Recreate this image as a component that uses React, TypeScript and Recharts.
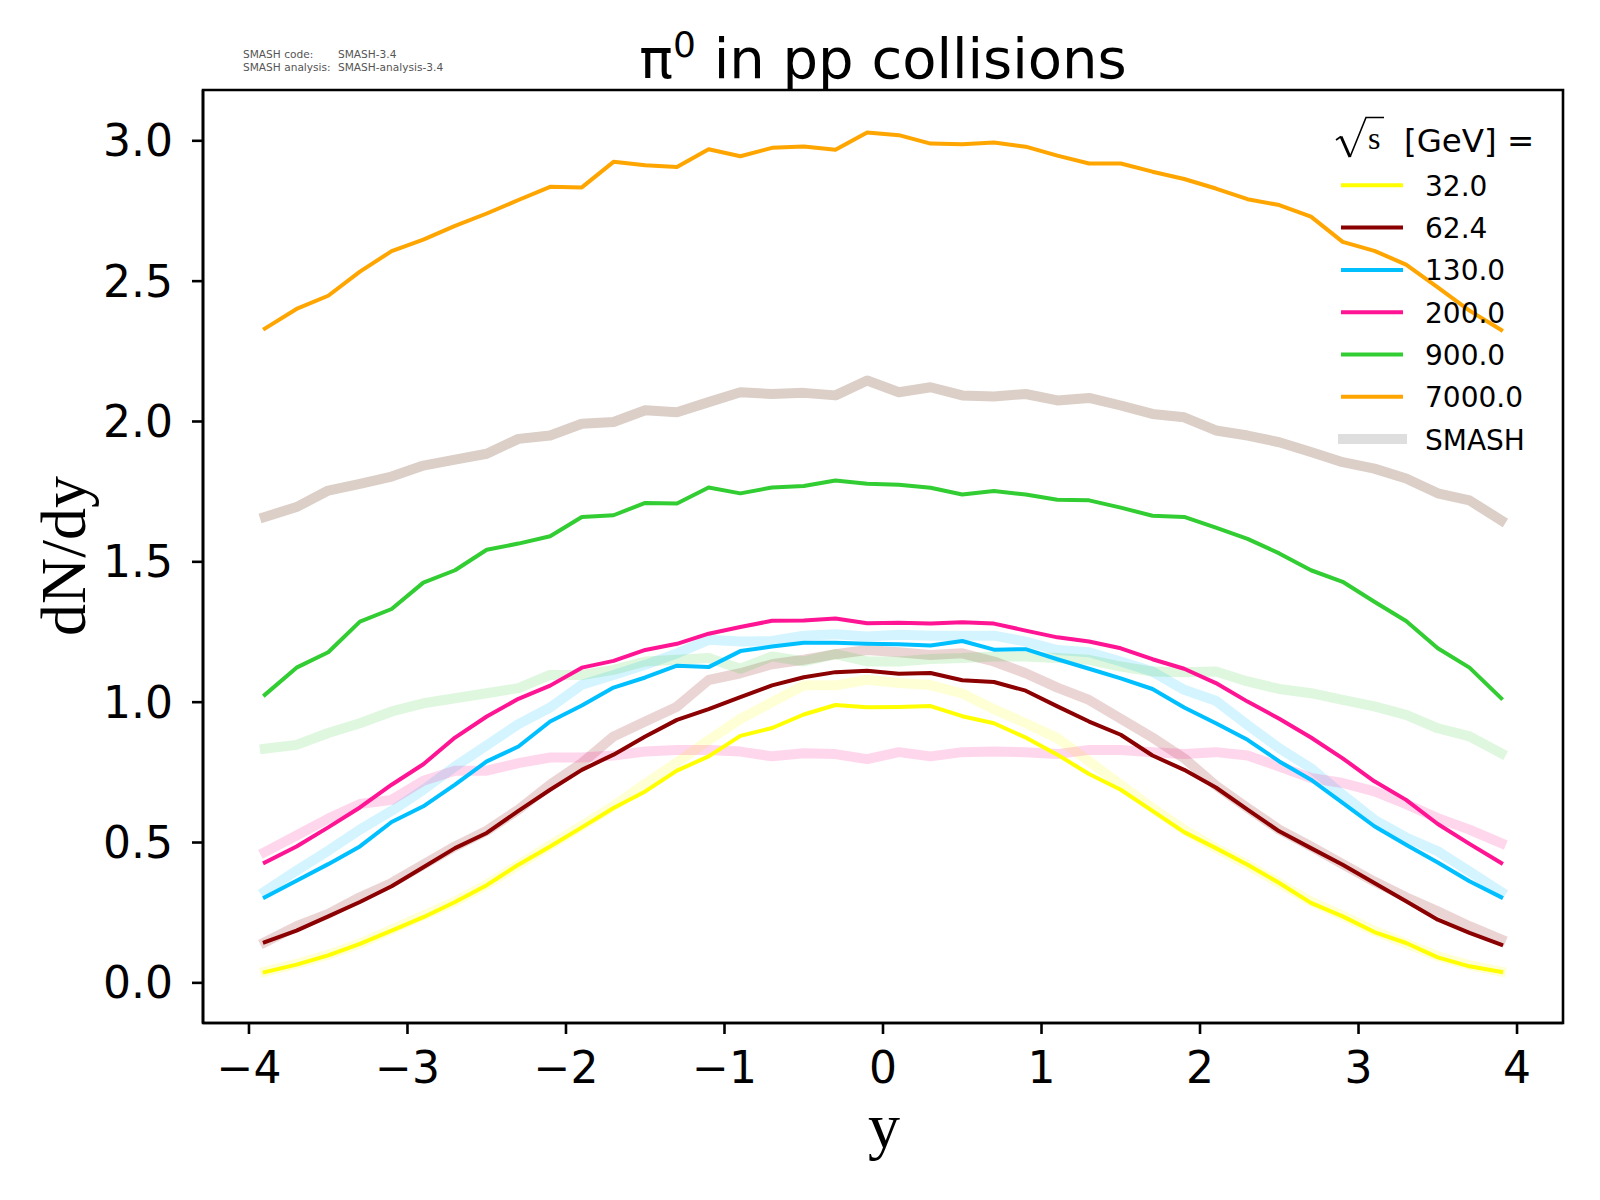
import React from 'react';
import { LineChart, Line, XAxis, YAxis, ReferenceArea } from 'recharts';

// rapidity bins
const rapidity = [
  -3.9, -3.7, -3.5, -3.3, -3.1, -2.9, -2.7, -2.5, -2.3, -2.1,
  -1.9, -1.7, -1.5, -1.3, -1.1, -0.9, -0.7, -0.5, -0.3, -0.1,
  0.1, 0.3, 0.5, 0.7, 0.9, 1.1, 1.3, 1.5, 1.7, 1.9,
  2.1, 2.3, 2.5, 2.7, 2.9, 3.1, 3.3, 3.5, 3.7, 3.9,
];

// reference curves (thin lines)
const ref32 = [
  0.038, 0.065, 0.098, 0.139, 0.186, 0.234, 0.288, 0.348, 0.421, 0.486,
  0.554, 0.623, 0.682, 0.756, 0.807, 0.880, 0.908, 0.956, 0.990, 0.982,
  0.983, 0.986, 0.950, 0.925, 0.874, 0.813, 0.744, 0.688, 0.613, 0.537,
  0.480, 0.421, 0.356, 0.285, 0.237, 0.181, 0.142, 0.091, 0.059, 0.039,
];
const ref62 = [
  0.145, 0.186, 0.237, 0.288, 0.344, 0.412, 0.480, 0.534, 0.613, 0.688,
  0.759, 0.813, 0.878, 0.937, 0.975, 1.018, 1.060, 1.089, 1.107, 1.112,
  1.101, 1.104, 1.078, 1.072, 1.041, 0.985, 0.931, 0.884, 0.810, 0.759,
  0.696, 0.617, 0.540, 0.480, 0.421, 0.356, 0.291, 0.225, 0.178, 0.136,
];
const ref130 = [
  0.305, 0.364, 0.423, 0.486, 0.573, 0.629, 0.706, 0.789, 0.842, 0.931,
  0.988, 1.052, 1.088, 1.130, 1.125, 1.182, 1.198, 1.212, 1.212, 1.208,
  1.206, 1.202, 1.218, 1.187, 1.189, 1.153, 1.119, 1.085, 1.047, 0.981,
  0.925, 0.866, 0.789, 0.724, 0.641, 0.558, 0.492, 0.429, 0.362, 0.305,
];
const ref200 = [
  0.429, 0.486, 0.554, 0.625, 0.706, 0.779, 0.874, 0.949, 1.012, 1.059,
  1.123, 1.147, 1.186, 1.208, 1.244, 1.268, 1.290, 1.291, 1.298, 1.281,
  1.283, 1.280, 1.285, 1.280, 1.255, 1.231, 1.216, 1.192, 1.153, 1.119,
  1.068, 1.002, 0.941, 0.874, 0.800, 0.718, 0.652, 0.566, 0.495, 0.427,
];
const ref900 = [
  1.026, 1.123, 1.178, 1.287, 1.332, 1.426, 1.470, 1.543, 1.565, 1.591,
  1.660, 1.666, 1.710, 1.708, 1.765, 1.744, 1.765, 1.770, 1.790, 1.778,
  1.775, 1.764, 1.740, 1.752, 1.740, 1.721, 1.719, 1.693, 1.664, 1.660,
  1.622, 1.582, 1.530, 1.470, 1.429, 1.358, 1.289, 1.192, 1.123, 1.014,
];
const ref7000 = [
  2.331, 2.401, 2.448, 2.534, 2.607, 2.648, 2.697, 2.741, 2.789, 2.836,
  2.834, 2.925, 2.913, 2.907, 2.970, 2.945, 2.975, 2.980, 2.968, 3.030,
  3.020, 2.990, 2.988, 2.994, 2.979, 2.947, 2.919, 2.919, 2.890, 2.864,
  2.830, 2.792, 2.771, 2.730, 2.640, 2.608, 2.559, 2.478, 2.395, 2.326,
];

// SMASH curves (thick, faded)
const smash32 = [
  0.040, 0.068, 0.100, 0.140, 0.190, 0.240, 0.290, 0.350, 0.420, 0.490,
  0.560, 0.630, 0.710, 0.785, 0.865, 0.940, 1.000, 1.060, 1.060, 1.080,
  1.068, 1.061, 1.031, 0.975, 0.925, 0.872, 0.789, 0.706, 0.623, 0.546,
  0.480, 0.420, 0.355, 0.290, 0.240, 0.185, 0.140, 0.095, 0.063, 0.040,
];
const smash62 = [
  0.145, 0.202, 0.246, 0.305, 0.356, 0.421, 0.486, 0.542, 0.617, 0.706,
  0.783, 0.878, 0.931, 0.984, 1.079, 1.103, 1.135, 1.151, 1.171, 1.186,
  1.178, 1.168, 1.174, 1.145, 1.103, 1.052, 1.008, 0.941, 0.874, 0.800,
  0.703, 0.623, 0.546, 0.486, 0.423, 0.361, 0.305, 0.255, 0.202, 0.155,
];
const smash130 = [
  0.326, 0.400, 0.471, 0.546, 0.613, 0.688, 0.771, 0.846, 0.922, 0.981,
  1.062, 1.097, 1.133, 1.174, 1.222, 1.216, 1.218, 1.237, 1.242, 1.234,
  1.240, 1.237, 1.237, 1.237, 1.216, 1.186, 1.178, 1.145, 1.109, 1.044,
  1.005, 0.919, 0.836, 0.765, 0.670, 0.581, 0.518, 0.469, 0.397, 0.324,
];
const smash200 = [
  0.466, 0.525, 0.585, 0.637, 0.652, 0.720, 0.756, 0.756, 0.783, 0.803,
  0.803, 0.810, 0.824, 0.830, 0.830, 0.824, 0.807, 0.818, 0.815, 0.797,
  0.822, 0.807, 0.822, 0.824, 0.822, 0.815, 0.830, 0.830, 0.822, 0.815,
  0.822, 0.810, 0.771, 0.730, 0.712, 0.682, 0.637, 0.587, 0.546, 0.498,
];
const smash900 = [
  0.834, 0.848, 0.890, 0.925, 0.967, 0.996, 1.014, 1.032, 1.050, 1.097,
  1.097, 1.115, 1.145, 1.151, 1.157, 1.119, 1.163, 1.145, 1.171, 1.145,
  1.145, 1.154, 1.157, 1.163, 1.163, 1.157, 1.151, 1.127, 1.109, 1.107,
  1.109, 1.074, 1.047, 1.032, 1.008, 0.985, 0.955, 0.907, 0.878, 0.818,
];
const smash7000 = [
  1.660, 1.695, 1.754, 1.778, 1.804, 1.843, 1.864, 1.885, 1.938, 1.950,
  1.992, 1.998, 2.040, 2.033, 2.069, 2.104, 2.098, 2.102, 2.093, 2.146,
  2.104, 2.122, 2.093, 2.089, 2.098, 2.075, 2.084, 2.057, 2.027, 2.015,
  1.968, 1.950, 1.926, 1.891, 1.855, 1.832, 1.797, 1.744, 1.719, 1.648,
];

const energyLabels = ['32.0', '62.4', '130.0', '200.0', '900.0', '7000.0'];
const energyColors = ['#ffff00', '#8b0000', '#00bfff', '#ff1493', '#32cd32', '#ffa500'];
const smashColors = ['#ffff00', '#8b0000', '#00bfff', '#ff1493', '#32cd32', '#dbcfc8'];
const smashOpacity = [0.16, 0.17, 0.17, 0.17, 0.16, 1];
const xTicks = [-4, -3, -2, -1, 0, 1, 2, 3, 4];
const yTicks = [0, 0.5, 1.0, 1.5, 2.0, 2.5, 3.0];

const refSeries = [ref32, ref62, ref130, ref200, ref900, ref7000];
const smashSeries = [smash32, smash62, smash130, smash200, smash900, smash7000];

const data = rapidity.map((x, i) => {
  const row: Record<string, number> = { x };
  refSeries.forEach((s, k) => { row['ref' + k] = s[i]; });
  smashSeries.forEach((s, k) => { row['smash' + k] = s[i]; });
  return row;
});

const W = 1600;
const H = 1200;
const X_DOMAIN: [number, number] = [-4.29, 4.29];
const Y_DOMAIN: [number, number] = [-0.143, 3.181];
const AXIS_STROKE = { stroke: '#000', strokeWidth: 2.6 };
const TICK_FONT = { fontSize: 44, fill: '#000', fontFamily: 'DejaVu Sans' };

const fmtX = (v: number) => (v < 0 ? '\u2212' + Math.abs(v) : String(v));
const fmtY = (v: number) => v.toFixed(1);

export default function App() {
  const legendY0 = 185.3;
  const legendDy = 42.3;
  return (
    <div style={{ position: 'absolute', left: 0, top: 0, width: W, height: H, background: '#fff' }}>
      <LineChart
        width={W}
        height={H}
        data={data}
        margin={{ top: 90, right: 37, left: 53, bottom: 57 }}
      >
        <XAxis
          xAxisId="main"
          dataKey="x"
          type="number"
          domain={X_DOMAIN}
          ticks={xTicks}
          allowDataOverflow
          tickFormatter={fmtX}
          tick={TICK_FONT}
          tickSize={11}
          tickMargin={18}
          tickLine={AXIS_STROKE}
          axisLine={AXIS_STROKE}
          height={120}
          interval={0}
        />
        <YAxis
          yAxisId="main"
          type="number"
          domain={Y_DOMAIN}
          ticks={yTicks}
          allowDataOverflow
          tickFormatter={fmtY}
          tick={TICK_FONT}
          tickSize={11}
          tickMargin={19}
          tickLine={AXIS_STROKE}
          axisLine={AXIS_STROKE}
          width={150}
          interval={0}
        />
        {smashSeries.map((_, k) => (
          <Line
            key={'smash' + k}
            xAxisId="main"
            yAxisId="main"
            type="linear"
            dataKey={'smash' + k}
            stroke={smashColors[k]}
            strokeOpacity={smashOpacity[k]}
            strokeWidth={10}
            strokeLinejoin="round"
            strokeLinecap="square"
            dot={false}
            activeDot={false}
            isAnimationActive={false}
          />
        ))}
        {refSeries.map((_, k) => (
          <Line
            key={'ref' + k}
            xAxisId="main"
            yAxisId="main"
            type="linear"
            dataKey={'ref' + k}
            stroke={energyColors[k]}
            strokeWidth={4}
            strokeLinejoin="round"
            strokeLinecap="square"
            dot={false}
            activeDot={false}
            isAnimationActive={false}
          />
        ))}
        <ReferenceArea
          xAxisId="main"
          yAxisId="main"
          x1={X_DOMAIN[0]}
          x2={X_DOMAIN[1]}
          y1={Y_DOMAIN[0]}
          y2={Y_DOMAIN[1]}
          ifOverflow="visible"
          fill="none"
          fillOpacity={0}
          stroke="#000"
          strokeWidth={2.6}
        />
      </LineChart>
      <svg
        width={W}
        height={H}
        style={{ position: 'absolute', left: 0, top: 0, pointerEvents: 'none' }}
      >
        <text x={883} y={78} textAnchor="middle" fontFamily="DejaVu Sans" fontSize={56} fill="#000">
          {'\u03c0'}
          <tspan fontSize={36} dy={-21}>0</tspan>
          <tspan dy={21}>{' in pp collisions'}</tspan>
        </text>
        <text fontFamily="DejaVu Sans" fontSize={10.6} fill="#555">
          <tspan x={243} y={57.5}>SMASH code:</tspan>
          <tspan x={338} y={57.5}>SMASH-3.4</tspan>
        </text>
        <text fontFamily="DejaVu Sans" fontSize={10.6} fill="#555">
          <tspan x={243} y={71}>SMASH analysis:</tspan>
          <tspan x={338} y={71}>SMASH-analysis-3.4</tspan>
        </text>
        <text
          x={85}
          y={556}
          transform="rotate(-90 85 556)"
          textAnchor="middle"
          fontFamily="Liberation Serif"
          fontSize={64}
          fill="#000"
        >
          dN/dy
        </text>
        <text x={884} y={1147} textAnchor="middle" fontFamily="Liberation Serif" fontSize={64} fill="#000">
          y
        </text>
        {/* legend */}
        <path d="M1336,140 L1341,136.5" stroke="#000" strokeWidth={1.6} fill="none" />
        <path d="M1341,136.5 L1350,157" stroke="#000" strokeWidth={3} fill="none" />
        <path d="M1350,157 L1366,117.5 L1384,117.5" stroke="#000" strokeWidth={1.6} fill="none" />
        <text x={1368} y={149} fontFamily="Liberation Serif" fontSize={32} fill="#000">s</text>
        <text x={1404} y={152} fontFamily="DejaVu Sans" fontSize={32.5} fill="#000">[GeV] =</text>
        {energyLabels.map((lab, k) => (
          <g key={lab}>
            <line
              x1={1341}
              x2={1403}
              y1={legendY0 + k * legendDy}
              y2={legendY0 + k * legendDy}
              stroke={energyColors[k]}
              strokeWidth={4}
            />
            <text x={1425} y={legendY0 + k * legendDy + 10.5} fontFamily="DejaVu Sans" fontSize={28} fill="#000">
              {lab}
            </text>
          </g>
        ))}
        <line
          x1={1338}
          x2={1407}
          y1={legendY0 + 6 * legendDy}
          y2={legendY0 + 6 * legendDy}
          stroke="#dedede"
          strokeWidth={10}
        />
        <text x={1425} y={legendY0 + 6 * legendDy + 10.5} fontFamily="DejaVu Sans" fontSize={28} fill="#000">
          SMASH
        </text>
      </svg>
    </div>
  );
}
